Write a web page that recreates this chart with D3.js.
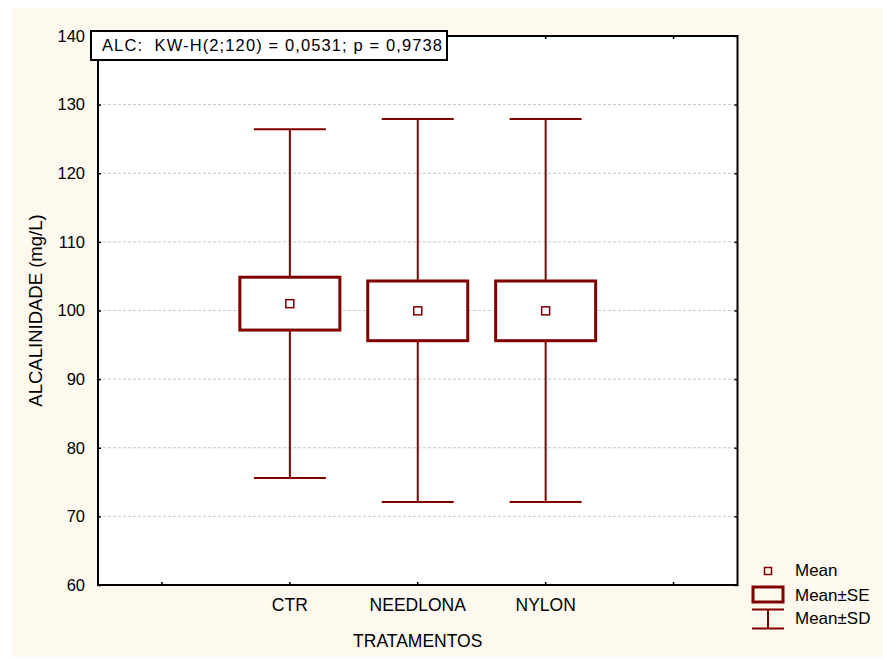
<!DOCTYPE html>
<html><head><meta charset="utf-8">
<script src="https://cdn.jsdelivr.net/npm/d3@7"></script>
<style>body{margin:0;background:#fff}svg{display:block}text{font-family:"Liberation Sans",Arial,sans-serif}</style>
</head><body>
<svg id="c" width="883" height="658"></svg>
<script>
const slots = ["", "CTR", "NEEDLONA", "NYLON", " "];
const categories = ["CTR", "NEEDLONA", "NYLON"];
const means = [101.0, 99.95, 99.95];
const seLow = [97.15, 95.6, 95.6];
const seHigh = [104.85, 104.3, 104.3];
const sdLow = [75.6, 72.1, 72.1];
const sdHigh = [126.4, 127.9, 127.9];
const yTicks = [60, 70, 80, 90, 100, 110, 120, 130, 140];
const gridTicks = [70, 80, 90, 100, 110, 120, 130];
const titleText = "ALC:  KW-H(2;120) = 0,0531; p = 0,9738";
const legendLabels = ["Mean", "Mean\u00b1SE", "Mean\u00b1SD"];

const red = "#800000";
const FF = "Liberation Sans, Arial, sans-serif";
const svg = d3.select("#c");
svg.append("rect").attr("x",12).attr("y",8).attr("width",871).attr("height",649).attr("fill","#fdf9ef");

const L=98, R=737.5, T=36, B=585;
const x = d3.scaleBand().domain(slots).range([L,R]).paddingInner(0).paddingOuter(0);
const y = d3.scaleLinear().domain([60,140]).range([B,T]);
const cx = c => x(c) + x.bandwidth()/2;

svg.append("rect").attr("x",L).attr("y",T).attr("width",R-L).attr("height",B-T).attr("fill","#fff");

// grid
svg.append("g").selectAll("line").data(gridTicks).join("line")
  .attr("x1",L).attr("x2",R).attr("y1",d=>y(d)).attr("y2",d=>y(d))
  .attr("stroke","#c8c8c8").attr("stroke-width",1).attr("stroke-dasharray","3,2");

// axes with inward ticks
const yAxis = svg.append("g").attr("transform",`translate(${L},0)`)
  .call(d3.axisLeft(y).tickValues(yTicks).tickSize(-3).tickPadding(13).tickFormat(d3.format("d")));
yAxis.select(".domain").remove();
yAxis.selectAll("text").attr("font-size",16.5).attr("fill","#000").attr("font-family",FF);
yAxis.selectAll("line").attr("stroke","#000").attr("stroke-width",1.5);

const yAxisR = svg.append("g").attr("transform",`translate(${R},0)`)
  .call(d3.axisRight(y).tickValues(yTicks).tickSize(-3).tickFormat(""));
yAxisR.select(".domain").remove();
yAxisR.selectAll("line").attr("stroke","#000").attr("stroke-width",1.5);

const xAxis = svg.append("g").attr("transform",`translate(0,${B})`)
  .call(d3.axisBottom(x).tickSize(-3).tickPadding(14));
xAxis.select(".domain").remove();
xAxis.selectAll("text").attr("font-size",17.5).attr("fill","#000").attr("font-family",FF);
xAxis.selectAll("line").attr("stroke","#000").attr("stroke-width",1.5);

const xAxisT = svg.append("g").attr("transform",`translate(0,${T})`)
  .call(d3.axisTop(x).tickSize(-3).tickFormat(""));
xAxisT.select(".domain").remove();
xAxisT.selectAll("line").attr("stroke","#000").attr("stroke-width",1.5);

svg.append("rect").attr("x",L).attr("y",T).attr("width",R-L).attr("height",B-T)
  .attr("fill","none").attr("stroke","#000").attr("stroke-width",2);

// marks
const boxW = 100, capW = 72;
const g = svg.append("g");
categories.forEach((c,i)=>{
  const X = cx(c);
  g.append("line").attr("x1",X).attr("x2",X).attr("y1",y(sdHigh[i])).attr("y2",y(seHigh[i]))
    .attr("stroke",red).attr("stroke-width",2);
  g.append("line").attr("x1",X).attr("x2",X).attr("y1",y(seLow[i])).attr("y2",y(sdLow[i]))
    .attr("stroke",red).attr("stroke-width",2);
  [sdHigh[i], sdLow[i]].forEach(v=>{
    g.append("line").attr("x1",X-capW/2).attr("x2",X+capW/2).attr("y1",y(v)).attr("y2",y(v))
      .attr("stroke",red).attr("stroke-width",2);
  });
  g.append("rect").attr("x",X-boxW/2).attr("y",y(seHigh[i])).attr("width",boxW)
    .attr("height",y(seLow[i])-y(seHigh[i])).attr("fill","#fff").attr("stroke",red).attr("stroke-width",3);
  g.append("rect").attr("x",X-4).attr("y",y(means[i])-4).attr("width",8).attr("height",8)
    .attr("fill","#fff").attr("stroke",red).attr("stroke-width",1.5);
});

// title box
svg.append("rect").attr("x",91).attr("y",31).attr("width",356).attr("height",29)
  .attr("fill","#fff").attr("stroke","#000").attr("stroke-width",2);
svg.append("text").attr("x",102).attr("y",51).attr("font-size",16.5).attr("fill","#000")
  .attr("textLength",340).attr("lengthAdjust","spacing")
  .style("white-space","pre").text(titleText);

// axis titles
svg.append("text").attr("x",(L+R)/2).attr("y",647).attr("text-anchor","middle")
  .attr("font-size",17.5).attr("fill","#000").text("TRATAMENTOS");
svg.append("text").attr("transform",`translate(42,${(T+B)/2}) rotate(-90)`).attr("text-anchor","middle")
  .attr("font-size",18.5).attr("fill","#000").text("ALCALINIDADE (mg/L)");

// legend
const lg = svg.append("g");
lg.append("rect").attr("x",764.5).attr("y",567.5).attr("width",7).attr("height",7)
  .attr("fill","none").attr("stroke",red).attr("stroke-width",1.5);
lg.append("rect").attr("x",753).attr("y",587).attr("width",30).attr("height",15)
  .attr("fill","none").attr("stroke",red).attr("stroke-width",3);
lg.append("line").attr("x1",752).attr("x2",784).attr("y1",609.5).attr("y2",609.5).attr("stroke",red).attr("stroke-width",2);
lg.append("line").attr("x1",752).attr("x2",784).attr("y1",628.5).attr("y2",628.5).attr("stroke",red).attr("stroke-width",2);
lg.append("line").attr("x1",768).attr("x2",768).attr("y1",609).attr("y2",629).attr("stroke",red).attr("stroke-width",2);
lg.selectAll("text.l").data(legendLabels).join("text").attr("class","l")
  .attr("x",795).attr("y",(d,i)=>[576,601,624][i]).attr("font-size",17).attr("fill","#000").text(d=>d);
</script>
</body></html>
